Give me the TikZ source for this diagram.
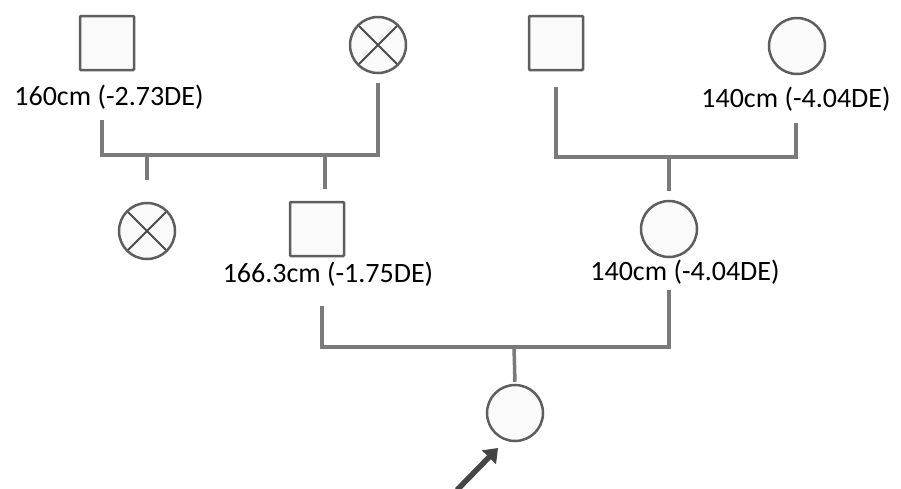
\documentclass[tikz,border=0pt]{standalone}
\usepackage{fontspec}
\setmainfont{Carlito}
\usetikzlibrary{arrows.meta}
\definecolor{edgegray}{HTML}{7A7A7A}
\definecolor{shapegray}{HTML}{5E5E5E}
\definecolor{shapefill}{HTML}{FAFAFA}
\definecolor{arrowgray}{HTML}{454545}

\begin{document}
\begin{tikzpicture}[x=1pt,y=-1pt,
   male/.style={draw=shapegray,fill=shapefill,line width=2.5pt,
      minimum size=54pt,inner sep=0pt,rounded corners=1pt},
   female/.style={circle,draw=shapegray,fill=shapefill,line width=2.5pt,
      minimum size=56pt,inner sep=0pt},
   unknown/.style={female,path picture={
      \draw[shapegray!80!black,line width=2pt]
        (path picture bounding box.south west) -- (path picture bounding box.north east)
        (path picture bounding box.north west) -- (path picture bounding box.south east);}},
   height/.style={font=\fontsize{28}{30}\selectfont,inner sep=0pt},
   line/.style={draw=edgegray,line width=3.5pt},
   proband/.style={draw=arrowgray,line width=5.5pt,-{Triangle[length=13pt,width=19pt]}}]

\useasboundingbox (0,0) rectangle (901,488);

% paternal grandparents
\node[male] (pgf) at (107,43) {};
\node[height] (pgflbl) at (109,97) {160cm (-2.73DE)};
\node[unknown] (pgm) at (378,45) {};
\coordinate (pgfline) at (102,120);
\coordinate (paunt) at (147,155);
\coordinate (pfath) at (325,155);

% maternal grandparents
\node[male] (mgf) at (556,43) {};
\node[female] (mgm) at (797,46) {};
\node[height] (mgmlbl) at (796,99) {140cm (-4.04DE)};
\coordinate (mgmline) at (796,123);
\coordinate (mmoth) at (669,157);

% parents
\node[unknown] (sib) at (147,231) {};
\node[male] (fath) at (317,229) {};
\node[height] (fathlbl) at (328,274) {166.3cm (-1.75DE)};
\node[female] (moth) at (669,229) {};
\node[height] (mothlbl) at (685,272) {140cm (-4.04DE)};
\coordinate (fathline) at (322,306);
\coordinate (mothline) at (669,290);
\coordinate (kid) at (514,347);

% proband
\node[female] (pro) at (515,413) {};
\coordinate (arrtail) at (457,490);
\coordinate (arrtip) at (498,448);

% sibships
\draw[line] (pgfline) |- (pfath -| pgm.south) -- ([yshift=-9pt]pgm.south);
\draw[line,shorten >=22pt] (paunt) -- (sib.north);
\draw[line,shorten >=12pt] (pfath) -- (pfath |- fath.north);
\draw[line] ([yshift=-16pt]mgf.south) |- (mmoth) -| (mgmline);
\draw[line,shorten >=9pt] (mmoth) -- (moth.north);
\draw[line] (fathline) |- (kid) -| (mothline);
\draw[line,shorten >=2pt] (kid) -- (pro.north);
\draw[proband] (arrtail) -- (arrtip);

\end{tikzpicture}
\end{document}
